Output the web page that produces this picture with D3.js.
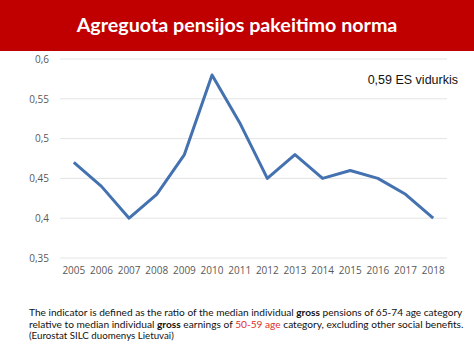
<!DOCTYPE html>
<html><head><meta charset="utf-8">
<script src="https://cdn.jsdelivr.net/npm/d3@7"></script>
<style>
body{margin:0;padding:0;background:#fff;}
svg{display:block;}
</style></head>
<body>
<svg id="c" width="474" height="355"></svg>
<script>
const years = ["2005","2006","2007","2008","2009","2010","2011","2012","2013","2014","2015","2016","2017","2018"];
const values = [0.47,0.44,0.40,0.43,0.48,0.58,0.52,0.45,0.48,0.45,0.46,0.45,0.43,0.40];
const yTicks = [0.35,0.4,0.45,0.5,0.55,0.6];
const title = "Agreguota pensijos pakeitimo norma";
const annotation = "0,59 ES vidurkis";

const svg = d3.select("#c");
svg.append("rect").attr("x",0).attr("y",0).attr("width",474).attr("height",51).attr("fill","#c00000");
const t = svg.append("text").attr("x",237).attr("y",32).attr("text-anchor","middle")
  .attr("fill","#fff").attr("font-family","Lato, 'Open Sans', sans-serif").attr("font-weight","bold")
  .attr("font-size",21).text(title);
{
  const w = t.node().getComputedTextLength();
  t.attr("font-size", 21*321/w);
}

const x = d3.scaleBand().domain(years).range([60,447]);
const y = d3.scaleLinear().domain([0.35,0.6]).range([258,59]);
const fmt = d => String(d).replace(".",",");

const grid = svg.append("g");
grid.selectAll("line").data(yTicks).join("line")
  .attr("x1",60).attr("x2",447).attr("y1",d=>y(d)).attr("y2",d=>y(d))
  .attr("stroke","#e4e4e4").attr("stroke-width",1);

const yAxis = svg.append("g").attr("transform","translate(52,0)")
  .call(d3.axisLeft(y).tickValues(yTicks).tickFormat(fmt).tickSize(0));
yAxis.select(".domain").remove();
yAxis.selectAll("text").attr("fill","#595959").attr("font-family","'Open Sans', sans-serif").attr("font-size",10);

const xAxis = svg.append("g").attr("transform","translate(0,264)")
  .call(d3.axisBottom(x).tickSize(0));
xAxis.select(".domain").remove();
xAxis.selectAll("text").attr("fill","#595959").attr("font-family","'Open Sans', sans-serif").attr("font-size",10);

const line = d3.line().x((d,i)=>x(years[i])+x.bandwidth()/2).y(d=>y(d));
svg.append("path").datum(values).attr("d",line).attr("fill","none")
  .attr("stroke","#4472b0").attr("stroke-width",3).attr("stroke-linejoin","round");

svg.append("text").attr("x",458).attr("y",84).attr("text-anchor","end")
  .attr("font-family","'Liberation Sans', Arial, sans-serif").attr("font-size",12.5).attr("fill","#111").text(annotation);

const fn = svg.append("g").attr("font-family","Lato, 'Open Sans', sans-serif").attr("fill","#111");
function fit(sel, target){
  sel.attr("font-size",10);
  const w = sel.node().getComputedTextLength();
  sel.attr("font-size", 10*target/w);
}
const l1 = fn.append("text").attr("x",29).attr("y",316);
l1.append("tspan").text("The indicator is defined as the ratio of the median individual ");
l1.append("tspan").attr("font-weight","bold").text("gross");
l1.append("tspan").text(" pensions of 65-74 age category");
fit(l1, 434);
const l2 = fn.append("text").attr("x",29).attr("y",328);
l2.append("tspan").text("relative to median individual ");
l2.append("tspan").attr("font-weight","bold").text("gross");
l2.append("tspan").text(" earnings of ");
l2.append("tspan").attr("fill","#e0302a").text("50-59 age");
l2.append("tspan").text(" category, excluding other social benefits.");
fit(l2, 435);
const l3 = fn.append("text").attr("x",29).attr("y",339).text("(Eurostat SILC duomenys Lietuvai)");
fit(l3, 145);
</script>
</body></html>
